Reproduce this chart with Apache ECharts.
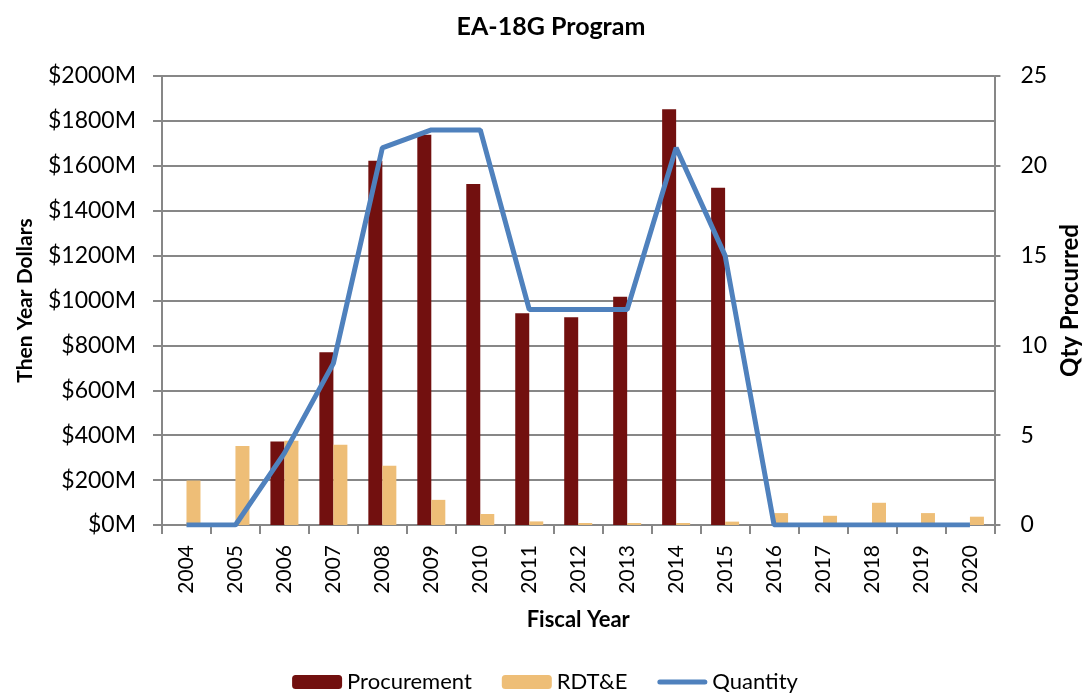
<!DOCTYPE html>
<html>
<head>
<meta charset="utf-8">
<script src="https://cdn.jsdelivr.net/npm/echarts@6/dist/echarts.min.js"></script>
<style>html,body{margin:0;padding:0;background:#fff;}#c{width:1090px;height:700px;}</style>
</head>
<body>
<div id="c"></div>
<script>
const years = ['2004','2005','2006','2007','2008','2009','2010','2011','2012','2013','2014','2015','2016','2017','2018','2019','2020'];
const procurement = [0, 0, 372, 769, 1623, 1738, 1519, 943, 925, 1017, 1852, 1502, 0, 0, 0, 0, 0];
const rdte = [198, 352, 375, 357, 264, 112, 49, 16, 9, 9, 9, 15, 53, 41, 99, 53, 37];
const quantity = [0, 0, 4, 9, 21, 22, 22, 12, 12, 12, 21, 15, 0, 0, 0, 0, 0];
const seriesNames = ['Procurement', 'RDT&E', 'Quantity'];

const FONT = 'Lato, "Open Sans", sans-serif';
const GRAY = '#878787';
const chart = echarts.init(document.getElementById('c'));
chart.setOption({
  animation: false,
  textStyle: { fontFamily: FONT, color: '#000' },
  title: {
    text: 'EA-18G Program', left: 546, top: 9, textAlign: 'center',
    textStyle: { fontFamily: FONT, fontSize: 25, fontWeight: 'bold', color: '#000' }
  },
  legend: {
    bottom: 2, left: 'center',
    data: [
      { name: seriesNames[0] },
      { name: seriesNames[1] },
      { name: seriesNames[2], icon: 'path://M2.5,0 L47.5,0 A2.5,2.5 0 0 1 47.5,5 L2.5,5 A2.5,2.5 0 0 1 2.5,0 Z' }
    ],
    itemWidth: 50, itemHeight: 14, itemGap: 30,
    textStyle: { fontFamily: FONT, fontSize: 22, color: '#000' }
  },
  grid: { left: 162, right: 93, top: 76, bottom: 175 },
  xAxis: {
    type: 'category', data: years,
    name: 'Fiscal Year', nameLocation: 'middle', nameGap: 84,
    nameTextStyle: { fontFamily: FONT, fontSize: 22, fontWeight: 'bold', color: '#000' },
    axisLine: { lineStyle: { color: GRAY, width: 2 } },
    axisTick: { show: true, length: 9, lineStyle: { color: GRAY, width: 2 } },
    axisLabel: { rotate: 90, margin: 20, fontSize: 21, color: '#000', fontFamily: FONT }
  },
  yAxis: [
    {
      type: 'value', min: 0, max: 2000, interval: 200,
      name: 'Then Year Dollars', nameLocation: 'middle', nameGap: 126, nameRotate: 90,
      nameTextStyle: { fontFamily: FONT, fontSize: 21, fontWeight: 'bold', color: '#000' },
      axisLine: { show: true, lineStyle: { color: GRAY, width: 2 } },
      axisTick: { show: true, length: 9, lineStyle: { color: GRAY, width: 2 } },
      axisLabel: { formatter: function (v) { return '$' + v + 'M'; }, margin: 26, fontSize: 23, color: '#000', fontFamily: FONT },
      splitLine: { lineStyle: { color: GRAY, width: 2 } }
    },
    {
      type: 'value', min: 0, max: 25, interval: 5, position: 'right',
      name: 'Qty Procurred', nameLocation: 'middle', nameGap: 63, nameRotate: 90,
      nameTextStyle: { fontFamily: FONT, fontSize: 24, fontWeight: 'bold', color: '#000' },
      axisLine: { show: true, lineStyle: { color: GRAY, width: 2 } },
      axisTick: { show: true, length: 6, lineStyle: { color: GRAY, width: 2 } },
      axisLabel: { margin: 26, fontSize: 23, color: '#000', fontFamily: FONT },
      splitLine: { show: false }
    }
  ],
  series: [
    {
      name: seriesNames[0], type: 'bar', data: procurement, yAxisIndex: 0,
      barWidth: 14, barGap: '0%',
      itemStyle: { color: '#72100F' }
    },
    {
      name: seriesNames[1], type: 'bar', data: rdte, yAxisIndex: 0,
      barWidth: 14, barGap: '0%',
      itemStyle: { color: '#EEBE77' }
    },
    {
      name: seriesNames[2], type: 'line', data: quantity, yAxisIndex: 1,
      symbol: 'none', z: 5,
      lineStyle: { color: '#4F81BD', width: 5 },
      itemStyle: { color: '#4F81BD' }
    }
  ]
});
</script>
</body>
</html>
